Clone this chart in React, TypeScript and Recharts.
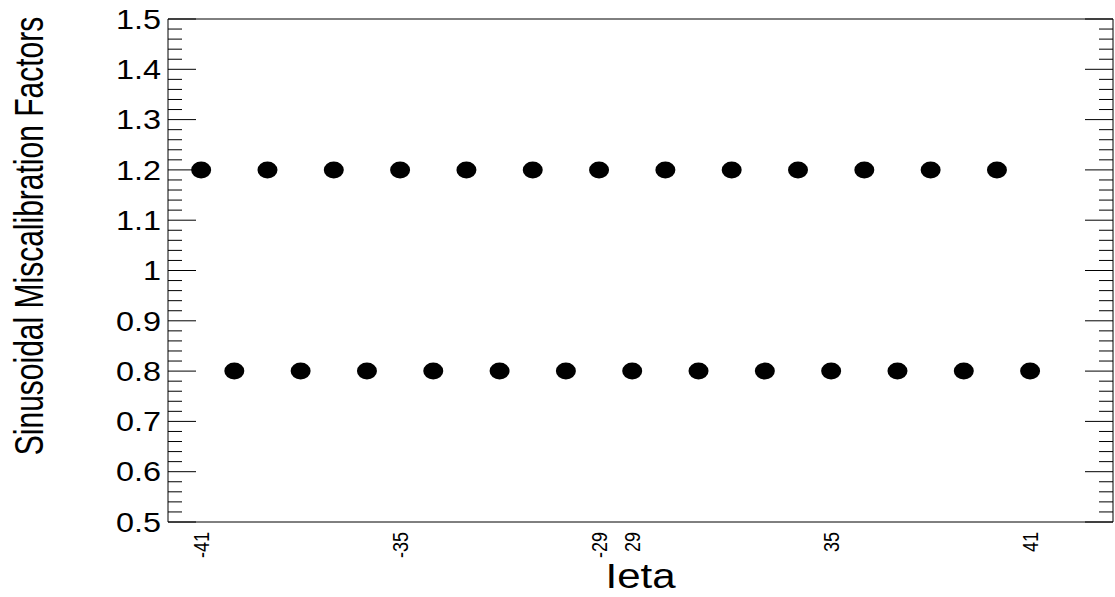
import { ScatterChart, Scatter, XAxis, YAxis, ReferenceArea } from "recharts";

// ieta bins, negative side then positive side
const ieta = [
  -41, -40, -39, -38, -37, -36, -35, -34, -33, -32, -31, -30, -29,
  29, 30, 31, 32, 33, 34, 35, 36, 37, 38, 39, 40, 41,
];

const factors = [
  1.2, 0.8, 1.2, 0.8, 1.2, 0.8, 1.2, 0.8, 1.2, 0.8, 1.2, 0.8, 1.2,
  0.8, 1.2, 0.8, 1.2, 0.8, 1.2, 0.8, 1.2, 0.8, 1.2, 0.8, 1.2, 0.8,
];

const labelledIeta = [-41, -35, -29, 29, 35, 41];

const yMajorLabels = ["0.5", "0.6", "0.7", "0.8", "0.9", "1", "1.1", "1.2", "1.3", "1.4", "1.5"];

const FONT = "'Liberation Sans', Arial, Helvetica, sans-serif";
const STRETCH = 1.2;

const data = ieta.map((e, i) => ({ pos: i + 1, ieta: e, factor: factors[i] }));
const xTicks = labelledIeta.map((e) => ieta.indexOf(e) + 1);

// major every 0.1, 5 divisions between
const yTicks = Array.from({ length: 51 }, (_, k) => Math.round((0.5 + k * 0.02) * 100) / 100);

const isMajor = (v: number) => Math.abs(v * 10 - Math.round(v * 10)) < 1e-6;
const fmt = (v: number) => {
  const s = String(Number(v.toFixed(1)));
  return yMajorLabels.includes(s) ? s : "";
};

const LeftTick = (props: any) => {
  const { x, y, payload } = props;
  const major = isMajor(payload.value);
  return (
    <g>
      <line x1={x} x2={x + (major ? 28 : 14)} y1={y} y2={y} stroke="#000" strokeWidth={1} />
      {major && (
        <text
          transform={`translate(${x - 7},${y}) scale(${STRETCH},1)`}
          textAnchor="end"
          dy="0.36em"
          fontSize={27}
          fontFamily={FONT}
          fill="#000"
        >
          {fmt(payload.value)}
        </text>
      )}
    </g>
  );
};

const RightTick = (props: any) => {
  const { x, y, payload } = props;
  const major = isMajor(payload.value);
  return <line x1={x - (major ? 28 : 14)} x2={x} y1={y} y2={y} stroke="#000" strokeWidth={1} />;
};

const BottomTick = (props: any) => {
  const { x, y, payload } = props;
  return (
    <text
      transform={`translate(${x},${y + 10}) scale(1.25,1) rotate(-90)`}
      textAnchor="end"
      dy="0.36em"
      fontSize={18}
      fontFamily={FONT}
      fill="#000"
    >
      {ieta[payload.value - 1]}
    </text>
  );
};

const Dot = (props: any) => <ellipse cx={props.cx} cy={props.cy} rx={10} ry={8.5} fill="#000" />;

const IetaTitle = (props: any) => {
  const vb = props.viewBox;
  return (
    <text
      transform={`translate(${vb.x + vb.width / 2},${vb.y + vb.height}) scale(${STRETCH},1)`}
      textAnchor="middle"
      fontSize={35}
      fontFamily={FONT}
      fill="#000"
    >
      Ieta
    </text>
  );
};

export default function App() {
  return (
    <div style={{ width: 1115, height: 597, background: "#fff", position: "relative" }}>
      <style>{"body{margin:0;background:#fff}"}</style>
      <ScatterChart width={1115} height={597} margin={{ top: 19, right: 1, bottom: 9, left: 108 }}>
        <XAxis
          type="number"
          dataKey="pos"
          domain={[0, 28.5]}
          ticks={xTicks}
          interval={0}
          tickSize={0}
          tickMargin={0}
          axisLine={false}
          tickLine={false}
          tick={<BottomTick />}
          height={66}
          label={{ position: "insideBottom", content: IetaTitle }}
        />
        <YAxis
          type="number"
          dataKey="factor"
          domain={[0.5, 1.5]}
          ticks={yTicks}
          interval={0}
          tickSize={0}
          tickMargin={0}
          axisLine={false}
          tickLine={false}
          tick={<LeftTick />}
          width={60}
          allowDataOverflow
        />
        <YAxis
          yAxisId="right"
          orientation="right"
          type="number"
          domain={[0.5, 1.5]}
          ticks={yTicks}
          interval={0}
          tickSize={0}
          tickMargin={0}
          axisLine={false}
          tickLine={false}
          tick={<RightTick />}
          width={1}
          allowDataOverflow
        />
        <ReferenceArea x1={0} x2={28.5} y1={0.5} y2={1.5} fill="none" stroke="#000" strokeWidth={1} />
        <Scatter data={data} shape={<Dot />} isAnimationActive={false} />
      </ScatterChart>
      <svg width={60} height={597} style={{ position: "absolute", left: 0, top: 0 }}>
        <text
          transform={`translate(28,236) scale(1.35,1) rotate(-90)`}
          textAnchor="middle"
          dy="0.36em"
          fontSize={30}
          fontFamily={FONT}
          fill="#000"
        >
          Sinusoidal Miscalibration Factors
        </text>
      </svg>
    </div>
  );
}
